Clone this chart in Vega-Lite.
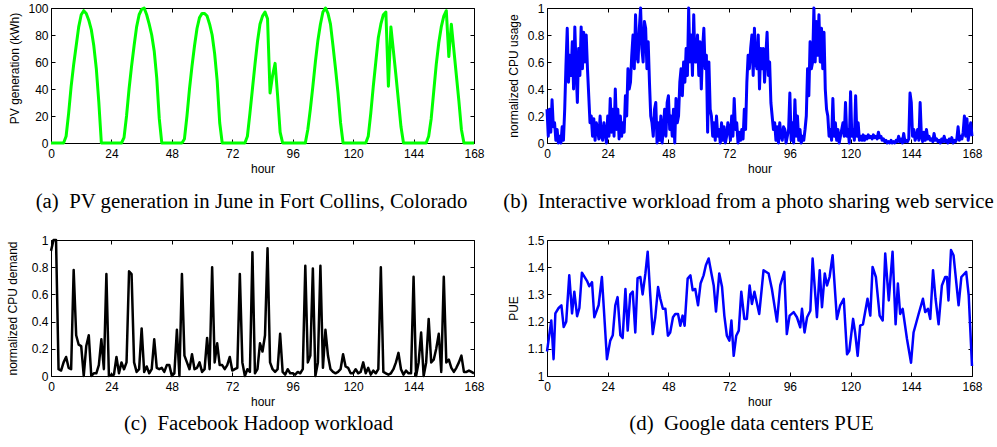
{
  "$schema": "https://vega.github.io/schema/vega-lite/v6.json",
  "padding": {"left": 5, "top": 1, "right": 0, "bottom": 2},
  "background": "white",
  "config": {
    "view": {"stroke": "#000", "strokeWidth": 1},
    "axis": {"domain": false, "grid": false, "tickColor": "#000", "tickSize": -4, "tickWidth": 1,
      "labelFont": "Liberation Sans", "labelFontSize": 12, "labelColor": "#000", "labelFlush": false, "labelOverlap": false,
      "titleFont": "Liberation Sans", "titleFontSize": 12, "titleFontWeight": "normal", "titleColor": "#000"},
    "axisX": {"labelPadding": 9, "titlePadding": 4},
    "axisY": {"labelPadding": 7},
    "title": {"font": "Liberation Serif", "fontSize": 20.8, "fontWeight": "normal", "color": "#000", "orient": "bottom", "anchor": "middle", "frame": "group"}
  },
  "datasets": {
    "pv": [
      {"h":0,"v":0},{"h":1,"v":0},{"h":2,"v":0},{"h":3,"v":0},{"h":4,"v":0},{"h":5,"v":0},{"h":6,"v":5},{"h":7,"v":22},{"h":8,"v":42},{"h":9,"v":58},{"h":10,"v":72},{"h":11,"v":86},{"h":12,"v":95},{"h":13,"v":98},{"h":14,"v":96},{"h":15,"v":91},{"h":16,"v":84},{"h":17,"v":72},{"h":18,"v":55},{"h":19,"v":30},{"h":20,"v":0},{"h":21,"v":0},{"h":22,"v":0},{"h":23,"v":0},
      {"h":24,"v":0},{"h":25,"v":0},{"h":26,"v":0},{"h":27,"v":0},{"h":28,"v":0},{"h":29,"v":4},{"h":30,"v":20},{"h":31,"v":40},{"h":32,"v":57},{"h":33,"v":72},{"h":34,"v":86},{"h":35,"v":95},{"h":36,"v":99},{"h":37,"v":100},{"h":38,"v":95},{"h":39,"v":88},{"h":40,"v":80},{"h":41,"v":68},{"h":42,"v":48},{"h":43,"v":18},{"h":44,"v":0},{"h":45,"v":0},{"h":46,"v":0},{"h":47,"v":0},
      {"h":48,"v":0},{"h":49,"v":0},{"h":50,"v":0},{"h":51,"v":0},{"h":52,"v":0},{"h":53,"v":3},{"h":54,"v":20},{"h":55,"v":40},{"h":56,"v":57},{"h":57,"v":72},{"h":58,"v":85},{"h":59,"v":93},{"h":60,"v":96},{"h":61,"v":96},{"h":62,"v":94},{"h":63,"v":88},{"h":64,"v":80},{"h":65,"v":66},{"h":66,"v":46},{"h":67,"v":15},{"h":68,"v":0},{"h":69,"v":0},{"h":70,"v":0},{"h":71,"v":0},
      {"h":72,"v":0},{"h":73,"v":0},{"h":74,"v":0},{"h":75,"v":0},{"h":76,"v":0},{"h":77,"v":0},{"h":78,"v":5},{"h":79,"v":22},{"h":80,"v":40},{"h":81,"v":58},{"h":82,"v":75},{"h":83,"v":88},{"h":84,"v":94},{"h":85,"v":97},{"h":86,"v":92},{"h":87,"v":37},{"h":88,"v":50},{"h":89,"v":59},{"h":90,"v":35},{"h":91,"v":8},{"h":92,"v":0},{"h":93,"v":0},{"h":94,"v":0},{"h":95,"v":0},
      {"h":96,"v":0},{"h":97,"v":0},{"h":98,"v":0},{"h":99,"v":0},{"h":100,"v":0},{"h":101,"v":0},{"h":102,"v":10},{"h":103,"v":25},{"h":104,"v":42},{"h":105,"v":60},{"h":106,"v":76},{"h":107,"v":88},{"h":108,"v":97},{"h":109,"v":100},{"h":110,"v":96},{"h":111,"v":88},{"h":112,"v":72},{"h":113,"v":55},{"h":114,"v":37},{"h":115,"v":15},{"h":116,"v":0},{"h":117,"v":0},{"h":118,"v":0},{"h":119,"v":0},
      {"h":120,"v":0},{"h":121,"v":0},{"h":122,"v":0},{"h":123,"v":0},{"h":124,"v":0},{"h":125,"v":0},{"h":126,"v":5},{"h":127,"v":22},{"h":128,"v":42},{"h":129,"v":60},{"h":130,"v":78},{"h":131,"v":88},{"h":132,"v":95},{"h":133,"v":97},{"h":134,"v":42},{"h":135,"v":86},{"h":136,"v":68},{"h":137,"v":50},{"h":138,"v":31},{"h":139,"v":12},{"h":140,"v":0},{"h":141,"v":0},{"h":142,"v":0},{"h":143,"v":0},
      {"h":144,"v":0},{"h":145,"v":0},{"h":146,"v":0},{"h":147,"v":0},{"h":148,"v":0},{"h":149,"v":0},{"h":150,"v":5},{"h":151,"v":18},{"h":152,"v":38},{"h":153,"v":58},{"h":154,"v":74},{"h":155,"v":86},{"h":156,"v":94},{"h":157,"v":98},{"h":158,"v":64},{"h":159,"v":88},{"h":160,"v":69},{"h":161,"v":50},{"h":162,"v":31},{"h":163,"v":10},{"h":164,"v":0},{"h":165,"v":0},{"h":166,"v":0},{"h":167,"v":0},{"h":168,"v":0}
    ],
    "cpu": [
      {"h":0,"v":0.25},{"h":0.5,"v":0.05},{"h":1,"v":0.25},{"h":1.5,"v":0.08},{"h":2,"v":0.32},{"h":2.5,"v":0.12},{"h":3,"v":0.15},{"h":3.5,"v":0.02},{"h":4,"v":0.1},{"h":4.5,"v":0},{"h":5,"v":0.05},{"h":5.5,"v":0},{"h":6,"v":0.12},{"h":6.5,"v":0.02},{"h":7,"v":0.25},{"h":7.5,"v":0.58},{"h":8,"v":0.85},{"h":8.5,"v":0.45},{"h":9,"v":0.65},{"h":9.5,"v":0.5},{"h":10,"v":0.75},{"h":10.5,"v":0.4},{"h":11,"v":0.86},{"h":11.5,"v":0.55},{"h":12,"v":0.3},{"h":12.5,"v":0.7},{"h":13,"v":0.5},{"h":13.5,"v":0.86},{"h":14,"v":0.55},{"h":14.5,"v":0.82},{"h":15,"v":0.6},{"h":15.5,"v":0.8},{"h":16,"v":0.55},{"h":16.5,"v":0.35},{"h":17,"v":0.15},{"h":17.5,"v":0.2},{"h":18,"v":0.05},{"h":18.5,"v":0.18},{"h":19,"v":0.02},{"h":19.5,"v":0.15},{"h":20,"v":0.1},{"h":20.5,"v":0.03},{"h":21,"v":0.2},{"h":21.5,"v":0.05},{"h":22,"v":0.02},{"h":22.5,"v":0.15},{"h":23,"v":0.08},{"h":23.5,"v":0},
      {"h":24,"v":0.2},{"h":24.5,"v":0.05},{"h":25,"v":0.33},{"h":25.5,"v":0.08},{"h":26,"v":0.25},{"h":26.5,"v":0.05},{"h":27,"v":0.4},{"h":27.5,"v":0.1},{"h":28,"v":0.25},{"h":28.5,"v":0.03},{"h":29,"v":0.2},{"h":29.5,"v":0.05},{"h":30,"v":0.15},{"h":30.5,"v":0.08},{"h":31,"v":0.35},{"h":31.5,"v":0.2},{"h":32,"v":0.55},{"h":32.5,"v":0.4},{"h":33,"v":0.45},{"h":33.5,"v":0.65},{"h":34,"v":0.8},{"h":34.5,"v":0.55},{"h":35,"v":0.95},{"h":35.5,"v":0.65},{"h":36,"v":0.6},{"h":36.5,"v":0.85},{"h":37,"v":1.0},{"h":37.5,"v":0.7},{"h":38,"v":0.6},{"h":38.5,"v":0.9},{"h":39,"v":0.85},{"h":39.5,"v":0.55},{"h":40,"v":0.75},{"h":40.5,"v":0.45},{"h":41,"v":0.2},{"h":41.5,"v":0.15},{"h":42,"v":0.05},{"h":42.5,"v":0.25},{"h":43,"v":0.3},{"h":43.5,"v":0},{"h":44,"v":0.15},{"h":44.5,"v":0.02},{"h":45,"v":0.2},{"h":45.5,"v":0},{"h":46,"v":0.1},{"h":46.5,"v":0.25},{"h":47,"v":0.05},{"h":47.5,"v":0.3},
      {"h":48,"v":0.35},{"h":48.5,"v":0.1},{"h":49,"v":0.2},{"h":49.5,"v":0.05},{"h":50,"v":0.25},{"h":50.5,"v":0},{"h":51,"v":0.33},{"h":51.5,"v":0.15},{"h":52,"v":0.2},{"h":52.5,"v":0.45},{"h":53,"v":0.55},{"h":53.5,"v":0.35},{"h":54,"v":0.6},{"h":54.5,"v":0.45},{"h":55,"v":0.7},{"h":55.5,"v":0.5},{"h":56,"v":1.0},{"h":56.5,"v":0.6},{"h":57,"v":0.8},{"h":57.5,"v":0.5},{"h":58,"v":0.95},{"h":58.5,"v":0.6},{"h":59,"v":0.6},{"h":59.5,"v":0.8},{"h":60,"v":0.5},{"h":60.5,"v":0.75},{"h":61,"v":0.4},{"h":61.5,"v":0.7},{"h":62,"v":0.85},{"h":62.5,"v":0.55},{"h":63,"v":0.65},{"h":63.5,"v":0.08},{"h":64,"v":0.6},{"h":64.5,"v":0.25},{"h":65,"v":0.2},{"h":65.5,"v":0.05},{"h":66,"v":0.15},{"h":66.5,"v":0.02},{"h":67,"v":0.2},{"h":67.5,"v":0.05},{"h":68,"v":0.1},{"h":68.5,"v":0},{"h":69,"v":0.15},{"h":69.5,"v":0.02},{"h":70,"v":0.12},{"h":70.5,"v":0},{"h":71,"v":0.05},{"h":71.5,"v":0.15},
      {"h":72,"v":0.1},{"h":72.5,"v":0.02},{"h":73,"v":0.2},{"h":73.5,"v":0.05},{"h":74,"v":0.33},{"h":74.5,"v":0.1},{"h":75,"v":0.15},{"h":75.5,"v":0},{"h":76,"v":0.08},{"h":76.5,"v":0.02},{"h":77,"v":0.1},{"h":77.5,"v":0.03},{"h":78,"v":0.25},{"h":78.5,"v":0.1},{"h":79,"v":0.45},{"h":79.5,"v":0.65},{"h":80,"v":0.55},{"h":80.5,"v":0.7},{"h":81,"v":0.8},{"h":81.5,"v":0.5},{"h":82,"v":0.85},{"h":82.5,"v":0.6},{"h":83,"v":0.55},{"h":83.5,"v":0.8},{"h":84,"v":0.4},{"h":84.5,"v":0.7},{"h":85,"v":0.55},{"h":85.5,"v":0.7},{"h":86,"v":0.45},{"h":86.5,"v":0.65},{"h":87,"v":0.82},{"h":87.5,"v":0.5},{"h":88,"v":0.6},{"h":88.5,"v":0.3},{"h":89,"v":0.2},{"h":89.5,"v":0.1},{"h":90,"v":0.15},{"h":90.5,"v":0.02},{"h":91,"v":0.12},{"h":91.5,"v":0},{"h":92,"v":0.15},{"h":92.5,"v":0.05},{"h":93,"v":0.02},{"h":93.5,"v":0.12},{"h":94,"v":0.1},{"h":94.5,"v":0},{"h":95,"v":0.05},{"h":95.5,"v":0.1},
      {"h":96,"v":0.37},{"h":96.5,"v":0.02},{"h":97,"v":0.15},{"h":97.5,"v":0},{"h":98,"v":0.32},{"h":98.5,"v":0.05},{"h":99,"v":0.2},{"h":99.5,"v":0.02},{"h":100,"v":0.1},{"h":100.5,"v":0},{"h":101,"v":0.05},{"h":101.5,"v":0.02},{"h":102,"v":0.1},{"h":102.5,"v":0.2},{"h":103,"v":0.55},{"h":103.5,"v":0.35},{"h":104,"v":0.75},{"h":104.5,"v":0.55},{"h":105,"v":0.6},{"h":105.5,"v":1.0},{"h":106,"v":0.6},{"h":106.5,"v":0.9},{"h":107,"v":0.65},{"h":107.5,"v":0.95},{"h":108,"v":0.6},{"h":108.5,"v":0.85},{"h":109,"v":0.55},{"h":109.5,"v":0.82},{"h":110,"v":0.4},{"h":110.5,"v":0.25},{"h":111,"v":0.2},{"h":111.5,"v":0.05},{"h":112,"v":0.1},{"h":112.5,"v":0.02},{"h":113,"v":0.33},{"h":113.5,"v":0.05},{"h":114,"v":0.15},{"h":114.5,"v":0.02},{"h":115,"v":0.1},{"h":115.5,"v":0},{"h":116,"v":0.05},{"h":116.5,"v":0.1},{"h":117,"v":0.15},{"h":117.5,"v":0.05},{"h":118,"v":0.3},{"h":118.5,"v":0.05},{"h":119,"v":0.1},{"h":119.5,"v":0},
      {"h":120,"v":0.38},{"h":120.5,"v":0.05},{"h":121,"v":0.1},{"h":121.5,"v":0.02},{"h":122,"v":0.35},{"h":122.5,"v":0.05},{"h":123,"v":0.15},{"h":123.5,"v":0.02},{"h":124,"v":0.05},{"h":124.5,"v":0.02},{"h":125,"v":0.06},{"h":125.5,"v":0.02},{"h":126,"v":0.05},{"h":126.5,"v":0.03},{"h":127,"v":0.06},{"h":127.5,"v":0.04},{"h":128,"v":0.05},{"h":128.5,"v":0.03},{"h":129,"v":0.06},{"h":129.5,"v":0.04},{"h":130,"v":0.05},{"h":130.5,"v":0.03},{"h":131,"v":0.08},{"h":131.5,"v":0.04},{"h":132,"v":0.05},{"h":132.5,"v":0.02},{"h":133,"v":0.03},{"h":133.5,"v":0.01},{"h":134,"v":0.02},{"h":134.5,"v":0},{"h":135,"v":0.01},{"h":135.5,"v":0},{"h":136,"v":0.02},{"h":136.5,"v":0},{"h":137,"v":0.01},{"h":137.5,"v":0},{"h":138,"v":0.02},{"h":138.5,"v":0.01},{"h":139,"v":0.05},{"h":139.5,"v":0.01},{"h":140,"v":0.03},{"h":140.5,"v":0},{"h":141,"v":0.07},{"h":141.5,"v":0.01},{"h":142,"v":0.02},{"h":142.5,"v":0.01},{"h":143,"v":0.03},{"h":143.5,"v":0.37},
      {"h":144,"v":0.3},{"h":144.5,"v":0.05},{"h":145,"v":0.1},{"h":145.5,"v":0.02},{"h":146,"v":0.05},{"h":146.5,"v":0.1},{"h":147,"v":0.02},{"h":147.5,"v":0.3},{"h":148,"v":0.05},{"h":148.5,"v":0.01},{"h":149,"v":0.08},{"h":149.5,"v":0.02},{"h":150,"v":0.1},{"h":150.5,"v":0.03},{"h":151,"v":0.05},{"h":151.5,"v":0.02},{"h":152,"v":0.03},{"h":152.5,"v":0.01},{"h":153,"v":0.07},{"h":153.5,"v":0.02},{"h":154,"v":0.03},{"h":154.5,"v":0.01},{"h":155,"v":0.02},{"h":155.5,"v":0},{"h":156,"v":0.03},{"h":156.5,"v":0.01},{"h":157,"v":0.05},{"h":157.5,"v":0.01},{"h":158,"v":0.02},{"h":158.5,"v":0},{"h":159,"v":0.03},{"h":159.5,"v":0.01},{"h":160,"v":0.04},{"h":160.5,"v":0},{"h":161,"v":0.02},{"h":161.5,"v":0.01},{"h":162,"v":0.03},{"h":162.5,"v":0.12},{"h":163,"v":0.02},{"h":163.5,"v":0.05},{"h":164,"v":0.03},{"h":164.5,"v":0.08},{"h":165,"v":0.2},{"h":165.5,"v":0.05},{"h":166,"v":0.18},{"h":166.5,"v":0.02},{"h":167,"v":0.1},{"h":167.5,"v":0.15},{"h":168,"v":0.05}
    ],
    "fb": [
      {"h":0,"v":0.92},{"h":1,"v":1.0},{"h":2,"v":1.0},{"h":3,"v":0.05},{"h":4,"v":0.04},{"h":5,"v":0.1},{"h":6,"v":0.14},{"h":7,"v":0.06},{"h":8,"v":0.05},{"h":9,"v":0.78},{"h":10,"v":0.3},{"h":11,"v":0.23},{"h":12,"v":0.22},{"h":13,"v":0},{"h":14,"v":0.22},{"h":15,"v":0.3},{"h":16,"v":0},{"h":17,"v":0.02},{"h":18,"v":0.02},{"h":19,"v":0.08},{"h":20,"v":0.27},{"h":21,"v":0.05},{"h":22,"v":0.75},{"h":23,"v":0},
      {"h":24,"v":0.01},{"h":25,"v":0.01},{"h":26,"v":0.14},{"h":27,"v":0.02},{"h":28,"v":0.1},{"h":29,"v":0.05},{"h":30,"v":0.1},{"h":31,"v":0.77},{"h":32,"v":0.75},{"h":33,"v":0.1},{"h":34,"v":0.03},{"h":35,"v":0.05},{"h":36,"v":0.35},{"h":37,"v":0.03},{"h":38,"v":0.07},{"h":39,"v":0.02},{"h":40,"v":0.05},{"h":41,"v":0.27},{"h":42,"v":0.06},{"h":43,"v":0.05},{"h":44,"v":0.06},{"h":45,"v":0.03},{"h":46,"v":0.08},{"h":47,"v":0.08},
      {"h":48,"v":0},{"h":49,"v":0.02},{"h":50,"v":0.34},{"h":51,"v":0},{"h":52,"v":0.75},{"h":53,"v":0.15},{"h":54,"v":0.1},{"h":55,"v":0.05},{"h":56,"v":0.16},{"h":57,"v":0.05},{"h":58,"v":0.06},{"h":59,"v":0.1},{"h":60,"v":0.03},{"h":61,"v":0.05},{"h":62,"v":0.28},{"h":63,"v":0.05},{"h":64,"v":0.8},{"h":65,"v":0.1},{"h":66,"v":0.24},{"h":67,"v":0.08},{"h":68,"v":0.08},{"h":69,"v":0.05},{"h":70,"v":0.08},{"h":71,"v":0.14},
      {"h":72,"v":0.04},{"h":73,"v":0.05},{"h":74,"v":0.06},{"h":75,"v":0.75},{"h":76,"v":0.1},{"h":77,"v":0},{"h":78,"v":0.05},{"h":79,"v":0.03},{"h":80,"v":0.91},{"h":81,"v":0.02},{"h":82,"v":0.05},{"h":83,"v":0.24},{"h":84,"v":0.18},{"h":85,"v":0.3},{"h":86,"v":0.94},{"h":87,"v":0.1},{"h":88,"v":0.05},{"h":89,"v":0.03},{"h":90,"v":0.05},{"h":91,"v":0.31},{"h":92,"v":0.03},{"h":93,"v":0.01},{"h":94,"v":0.05},{"h":95,"v":0.02},
      {"h":96,"v":0.02},{"h":97,"v":0.01},{"h":98,"v":0.03},{"h":99,"v":0.02},{"h":100,"v":0.05},{"h":101,"v":0.81},{"h":102,"v":0.1},{"h":103,"v":0.15},{"h":104,"v":0.79},{"h":105,"v":0},{"h":106,"v":0.1},{"h":107,"v":0.81},{"h":108,"v":0.06},{"h":109,"v":0.34},{"h":110,"v":0.15},{"h":111,"v":0.05},{"h":112,"v":0.03},{"h":113,"v":0.02},{"h":114,"v":0.03},{"h":115,"v":0.05},{"h":116,"v":0.16},{"h":117,"v":0.07},{"h":118,"v":0.06},{"h":119,"v":0.02},
      {"h":120,"v":0.02},{"h":121,"v":0.05},{"h":122,"v":0.02},{"h":123,"v":0.03},{"h":124,"v":0.1},{"h":125,"v":0.02},{"h":126,"v":0.06},{"h":127,"v":0.01},{"h":128,"v":0.04},{"h":129,"v":0.02},{"h":130,"v":0.05},{"h":131,"v":0.8},{"h":132,"v":0.03},{"h":133,"v":0.02},{"h":134,"v":0.01},{"h":135,"v":0.02},{"h":136,"v":0.05},{"h":137,"v":0.1},{"h":138,"v":0.17},{"h":139,"v":0.05},{"h":140,"v":0.01},{"h":141,"v":0.04},{"h":142,"v":0.02},{"h":143,"v":0.02},
      {"h":144,"v":0.73},{"h":145,"v":0},{"h":146,"v":0.1},{"h":147,"v":0.32},{"h":148,"v":0},{"h":149,"v":0.1},{"h":150,"v":0.42},{"h":151,"v":0.1},{"h":152,"v":0.12},{"h":153,"v":0.2},{"h":154,"v":0.31},{"h":155,"v":0.03},{"h":156,"v":0.73},{"h":157,"v":0.1},{"h":158,"v":0.12},{"h":159,"v":0.06},{"h":160,"v":0.03},{"h":161,"v":0.06},{"h":162,"v":0.1},{"h":163,"v":0.15},{"h":164,"v":0.03},{"h":165,"v":0.03},{"h":166,"v":0.04},{"h":167,"v":0.03},{"h":168,"v":0.02}
    ],
    "pue": [
      {"h":0,"v":1.09},{"h":1.7,"v":1.204},{"h":2.6,"v":1.062},{"h":3.3,"v":1.23},{"h":4.6,"v":1.25},{"h":5.7,"v":1.26},{"h":6.6,"v":1.18},{"h":7.6,"v":1.2},{"h":8.8,"v":1.37},{"h":9.9,"v":1.23},{"h":10.8,"v":1.31},{"h":11.9,"v":1.22},{"h":12.8,"v":1.25},{"h":13.8,"v":1.38},{"h":15.8,"v":1.35},{"h":16.7,"v":1.33},{"h":17.8,"v":1.345},{"h":18.7,"v":1.216},{"h":20.4,"v":1.26},{"h":21.7,"v":1.364},{"h":23.7,"v":1.062},{"h":25,"v":1.13},{"h":26,"v":1.15},{"h":27,"v":1.26},{"h":27.9,"v":1.29},{"h":29,"v":1.15},{"h":29.9,"v":1.14},{"h":31,"v":1.32},{"h":31.9,"v":1.167},{"h":32.9,"v":1.3},{"h":33.9,"v":1.31},{"h":34.9,"v":1.16},{"h":35.8,"v":1.36},{"h":36.9,"v":1.364},{"h":37.8,"v":1.3},{"h":38.9,"v":1.377},{"h":39.8,"v":1.457},{"h":40.8,"v":1.3},{"h":41.8,"v":1.154},{"h":42.8,"v":1.216},{"h":43.9,"v":1.327},{"h":44.8,"v":1.284},{"h":45.8,"v":1.247},{"h":46.8,"v":1.247},{"h":47.8,"v":1.148},{"h":48.7,"v":1.16},{"h":49.8,"v":1.216},{"h":50.7,"v":1.228},{"h":51.8,"v":1.228},{"h":52.7,"v":1.185},{"h":53.6,"v":1.222},{"h":54.4,"v":1.185},{"h":55.6,"v":1.358},{"h":56.7,"v":1.37},{"h":57.6,"v":1.315},{"h":58.6,"v":1.32},{"h":59.7,"v":1.26},{"h":60.7,"v":1.34},{"h":61.9,"v":1.37},{"h":62.8,"v":1.407},{"h":63.9,"v":1.432},{"h":65,"v":1.377},{"h":65.9,"v":1.333},{"h":66.8,"v":1.237},{"h":68.1,"v":1.377},{"h":69.2,"v":1.327},{"h":70.1,"v":1.222},{"h":71.1,"v":1.148},{"h":72.1,"v":1.13},{"h":72.9,"v":1.204},{"h":73.8,"v":1.074},{"h":74.8,"v":1.148},{"h":75.8,"v":1.167},{"h":76.8,"v":1.31},{"h":78,"v":1.21},{"h":79,"v":1.21},{"h":80.1,"v":1.333},{"h":81,"v":1.265},{"h":82,"v":1.31},{"h":83.9,"v":1.228},{"h":85.6,"v":1.389},{"h":87.6,"v":1.377},{"h":88.9,"v":1.32},{"h":90.9,"v":1.2},{"h":92.2,"v":1.333},{"h":93.8,"v":1.383},{"h":94.8,"v":1.154},{"h":95.9,"v":1.222},{"h":97.5,"v":1.235},{"h":98.8,"v":1.216},{"h":100.1,"v":1.179},{"h":100.8,"v":1.247},{"h":101.8,"v":1.16},{"h":102.8,"v":1.216},{"h":104.1,"v":1.24},{"h":105,"v":1.432},{"h":106.7,"v":1.216},{"h":107.8,"v":1.389},{"h":108.7,"v":1.253},{"h":109.8,"v":1.377},{"h":110.7,"v":1.333},{"h":111.7,"v":1.364},{"h":112.9,"v":1.444},{"h":114.6,"v":1.21},{"h":115.9,"v":1.26},{"h":117.3,"v":1.284},{"h":118.6,"v":1.08},{"h":119.5,"v":1.093},{"h":121,"v":1.21},{"h":121.8,"v":1.16},{"h":122.8,"v":1.074},{"h":123.8,"v":1.185},{"h":124.9,"v":1.19},{"h":126.7,"v":1.284},{"h":127.8,"v":1.222},{"h":128.7,"v":1.401},{"h":130,"v":1.364},{"h":131.5,"v":1.222},{"h":132.7,"v":1.204},{"h":133.7,"v":1.45},{"h":135.1,"v":1.278},{"h":136.6,"v":1.457},{"h":137.8,"v":1.19},{"h":138.7,"v":1.34},{"h":139.6,"v":1.228},{"h":140.6,"v":1.247},{"h":142.3,"v":1.136},{"h":143.9,"v":1.049},{"h":144.9,"v":1.16},{"h":146.9,"v":1.228},{"h":148.6,"v":1.284},{"h":149.5,"v":1.235},{"h":150.6,"v":1.247},{"h":151.5,"v":1.21},{"h":152.6,"v":1.389},{"h":153.6,"v":1.284},{"h":154.8,"v":1.19},{"h":156.1,"v":1.333},{"h":157.4,"v":1.364},{"h":158.1,"v":1.364},{"h":158.7,"v":1.278},{"h":159.7,"v":1.463},{"h":160.7,"v":1.444},{"h":162.7,"v":1.26},{"h":163.8,"v":1.364},{"h":165.7,"v":1.383},{"h":166.7,"v":1.296},{"h":168,"v":1.037}
    ]
  },
  "concat": [
    {
      "width": 423, "height": 135,
      "title": {"text": "(a)\u00a0\u00a0PV generation in June in Fort Collins, Colorado", "orient": "bottom", "frame": "group", "offset": 18, "dx": -11},
      "data": {"name": "pv"},
      "layer": [
        {"mark": {"type": "line", "color": "#00ff00", "strokeWidth": 3, "strokeJoin": "round"},
         "encoding": {
           "x": {"field": "h", "type": "quantitative", "scale": {"domain": [0, 168], "nice": false}, "axis": {"orient": "bottom", "values": [0,24,48,72,96,120,144,168], "title": "hour"}},
           "y": {"field": "v", "type": "quantitative", "scale": {"domain": [0, 100], "nice": false}, "axis": {"orient": "left", "values": [0,20,40,60,80,100], "format": "~f", "title": "PV generation (kWh)", "titlePadding": 6, "titleY": 60}}
         }},
        {"mark": {"type": "line", "opacity": 0},
         "encoding": {
           "x": {"field": "h", "type": "quantitative", "axis": {"orient": "top", "values": [0,24,48,72,96,120,144,168], "labels": false, "title": null}},
           "y": {"field": "v", "type": "quantitative", "axis": {"orient": "right", "values": [0,20,40,60,80,100], "labels": false, "title": null}}
         }}
      ],
      "resolve": {"axis": {"x": "independent", "y": "independent"}}
    },
    {
      "width": 425, "height": 135,
      "title": {"text": "(b)\u00a0\u00a0Interactive workload from a photo sharing web service", "orient": "bottom", "frame": "group", "offset": 18, "dx": -11},
      "data": {"name": "cpu"},
      "layer": [
        {"mark": {"type": "line", "color": "#0000ff", "strokeWidth": 3, "strokeJoin": "round"},
         "encoding": {
           "x": {"field": "h", "type": "quantitative", "scale": {"domain": [0, 168], "nice": false}, "axis": {"orient": "bottom", "values": [0,24,48,72,96,120,144,168], "title": "hour"}},
           "y": {"field": "v", "type": "quantitative", "scale": {"domain": [0, 1], "nice": false}, "axis": {"orient": "left", "values": [0,0.2,0.4,0.6,0.8,1], "format": "~f", "title": "normalized CPU usage", "titlePadding": 7}}
         }},
        {"mark": {"type": "line", "opacity": 0},
         "encoding": {
           "x": {"field": "h", "type": "quantitative", "axis": {"orient": "top", "values": [0,24,48,72,96,120,144,168], "labels": false, "title": null}},
           "y": {"field": "v", "type": "quantitative", "axis": {"orient": "right", "values": [0,0.2,0.4,0.6,0.8,1], "labels": false, "title": null}}
         }}
      ],
      "resolve": {"axis": {"x": "independent", "y": "independent"}}
    },
    {
      "width": 423, "height": 136,
      "title": {"text": "(c)\u00a0\u00a0Facebook Hadoop workload", "orient": "bottom", "frame": "group", "offset": 7, "dx": -4},
      "data": {"name": "fb"},
      "layer": [
        {"mark": {"type": "line", "color": "#000000", "strokeWidth": 2.5, "strokeJoin": "round"},
         "encoding": {
           "x": {"field": "h", "type": "quantitative", "scale": {"domain": [0, 168], "nice": false}, "axis": {"orient": "bottom", "values": [0,24,48,72,96,120,144,168], "title": "hour"}},
           "y": {"field": "v", "type": "quantitative", "scale": {"domain": [0, 1], "nice": false}, "axis": {"orient": "left", "values": [0,0.2,0.4,0.6,0.8,1], "format": "~f", "title": "normalized CPU demand", "titlePadding": 12}}
         }},
        {"mark": {"type": "line", "opacity": 0},
         "encoding": {
           "x": {"field": "h", "type": "quantitative", "axis": {"orient": "top", "values": [0,24,48,72,96,120,144,168], "labels": false, "title": null}},
           "y": {"field": "v", "type": "quantitative", "axis": {"orient": "right", "values": [0,0.2,0.4,0.6,0.8,1], "labels": false, "title": null}}
         }}
      ],
      "resolve": {"axis": {"x": "independent", "y": "independent"}}
    },
    {
      "width": 425, "height": 136,
      "title": {"text": "(d)\u00a0\u00a0Google data centers PUE", "orient": "bottom", "frame": "group", "offset": 7, "dx": -8},
      "data": {"name": "pue"},
      "layer": [
        {"mark": {"type": "line", "color": "#0000ff", "strokeWidth": 2.5, "strokeJoin": "round"},
         "encoding": {
           "x": {"field": "h", "type": "quantitative", "scale": {"domain": [0, 168], "nice": false}, "axis": {"orient": "bottom", "values": [0,24,48,72,96,120,144,168], "title": "hour"}},
           "y": {"field": "v", "type": "quantitative", "scale": {"domain": [1, 1.5], "nice": false, "zero": false}, "axis": {"orient": "left", "values": [1,1.1,1.2,1.3,1.4,1.5], "format": "~f", "title": "PUE", "titlePadding": 7}}
         }},
        {"mark": {"type": "line", "opacity": 0},
         "encoding": {
           "x": {"field": "h", "type": "quantitative", "axis": {"orient": "top", "values": [0,24,48,72,96,120,144,168], "labels": false, "title": null}},
           "y": {"field": "v", "type": "quantitative", "axis": {"orient": "right", "values": [1,1.1,1.2,1.3,1.4,1.5], "labels": false, "title": null}}
         }}
      ],
      "resolve": {"axis": {"x": "independent", "y": "independent"}}
    }
  ],
  "columns": 2,
  "spacing": {"row": 97, "column": 73},
  "bounds": "flush"
}
